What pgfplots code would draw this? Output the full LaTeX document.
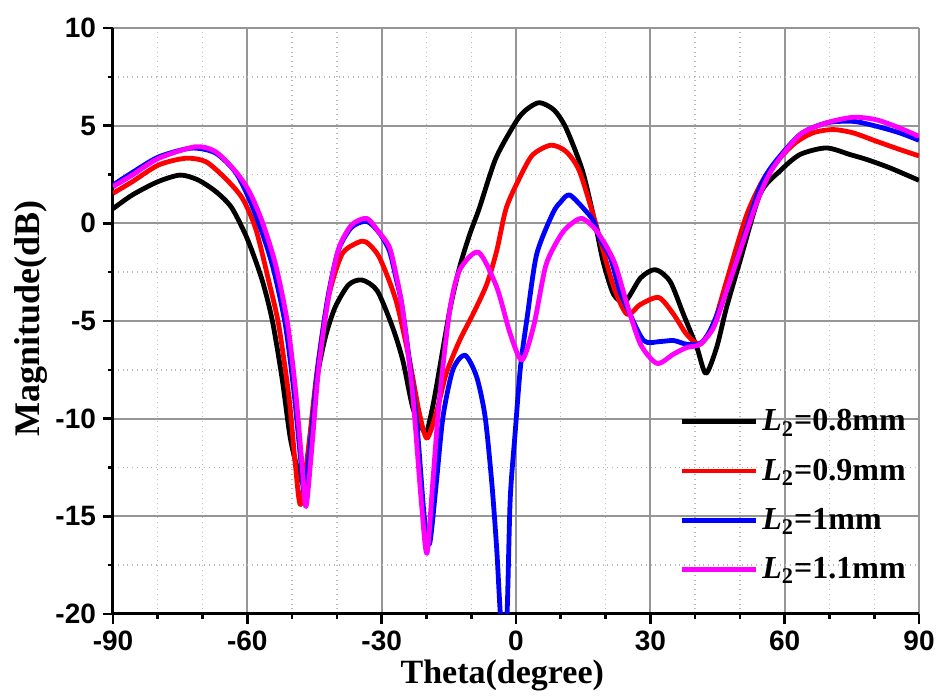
\documentclass[border=0pt]{standalone}
\usepackage{pgfplots}
\pgfplotsset{compat=1.18}
\usepackage{fontspec}
\setmainfont{Liberation Serif}
\setsansfont{Liberation Sans}
\definecolor{mag}{RGB}{255,0,255}
\definecolor{gridmaj}{RGB}{150,150,150}
\definecolor{gridmin}{RGB}{185,185,185}
\begin{document}
\begin{tikzpicture}
\begin{axis}[
  scale only axis, width=403pt, height=293pt,
  xmin=-90, xmax=90, ymin=-20, ymax=10,
  xtick={-90,-60,...,90}, ytick={-20,-15,...,10},
  minor x tick num=2, minor y tick num=1,
  axis x line*=bottom, axis y line*=left,
  axis line style={line width=1.5pt, black},
  tick align=outside,
  major tick length=5pt, minor tick length=2.5pt,
  every tick/.style={black, line width=1.3pt},
  grid=both,
  major grid style={gridmaj, line width=0.9pt},
  minor grid style={gridmin, dotted, line width=0.7pt},
  /pgf/number format/assume math mode=true,
  tick label style={font=\fontsize{14}{14}\selectfont\sffamily\bfseries},
  xlabel={Theta(degree)}, ylabel={Magnitude(dB)},
  xlabel style={font=\fontsize{17}{17}\selectfont\bfseries, at={(axis description cs:0.483,-0.078)}, anchor=north, inner sep=0pt},
  ylabel style={font=\fontsize{18}{18}\selectfont\bfseries, at={(axis description cs:-0.102,0.505)}, anchor=center, inner sep=0pt},
  legend style={draw=none, fill=none, at={(axis description cs:0.695,0.363)}, anchor=north west,
    font=\fontsize{16}{16}\selectfont\bfseries, row sep=8.5pt},
  legend cell align=left,
  legend image code/.code={\draw[#1] (0pt,0pt) -- (37pt,0pt);},
  every axis plot/.append style={line width=2.4pt, smooth, tension=0.45, line join=round},
]
% L2 = 0.8 mm
\addplot[black] coordinates {
(-90,0.75) (-85.7,1.45) (-80,2.13) (-75,2.47) (-71,2.22) (-67,1.62) (-63.5,0.8) (-60,-0.8)
(-56.7,-2.9) (-54.4,-5.0) (-52.2,-8.0) (-50.4,-11.0) (-48.5,-12.8) (-47.2,-13.3) (-46,-11.0)
(-44.5,-8.0) (-42.6,-5.85) (-40.4,-4.3) (-37.4,-3.15) (-34.4,-2.9) (-31,-3.45)
(-27.6,-5.3) (-25.3,-7.0) (-23.1,-9.4) (-21.2,-10.4) (-20,-10.7) (-18.8,-9.6) (-17.8,-8.4)
(-14.8,-4.46) (-12.6,-2.25) (-10.3,-0.54) (-8.2,0.77) (-4.5,3.33) (0,5.2) (2.2,5.8) (5.2,6.18)
(8.5,5.8) (11.2,4.86) (14.9,2.65) (17.9,-0.26) (19.5,-2.0) (21.8,-3.64) (24.4,-4.0) (27.8,-2.8)
(31.1,-2.37) (34.4,-2.97) (37.4,-4.66) (40.4,-6.36) (42.4,-7.68) (44.8,-6.36) (47,-4.32)
(50,-1.95) (54.5,1.5) (58.9,2.67) (63.4,3.52) (69.3,3.86) (74.6,3.52) (78.3,3.27) (83.5,2.84) (90,2.2)
};
\addlegendentry{\textit{L}\textsubscript{2}=0.8mm}
% L2 = 0.9 mm
\addplot[red] coordinates {
(-90,1.54) (-85.7,2.13) (-79.8,2.99) (-73.8,3.33) (-69.3,3.16) (-64.9,2.3) (-61.1,1.28) (-58.1,-0.3)
(-55.2,-2.97) (-53,-5.2) (-50.7,-8.9) (-49.3,-12.3) (-48.1,-14.4) (-46.3,-11.4) (-44.4,-7.5)
(-41.9,-3.8) (-38.9,-1.6) (-35.5,-1.0) (-33.5,-0.95) (-30.5,-1.75) (-26.8,-3.95)
(-23.8,-7.0) (-21.6,-9.7) (-19.9,-11.0) (-17.8,-9.7) (-15.6,-7.7) (-12.6,-6.0) (-9.5,-4.6)
(-6.5,-3.1) (-4.3,-1.4) (-2.2,0.77) (0.75,2.3) (3.7,3.5) (7.8,4.0) (11.2,3.67) (14.2,2.65)
(17.9,-0.09) (18.9,-0.93) (21.9,-3.3) (24.8,-4.66) (27.8,-4.15) (31.9,-3.8) (35.2,-4.66)
(38.1,-5.68) (41.1,-6.19) (44.1,-5.17) (47,-2.97) (51.5,0.42) (55.9,2.5) (61.9,4.03) (66.3,4.63)
(70.8,4.8) (75.3,4.63) (80.5,4.2) (85.7,3.78) (90,3.45)
};
\addlegendentry{\textit{L}\textsubscript{2}=0.9mm}
% L2 = 1 mm
\addplot[blue] coordinates {
(-90,1.96) (-85.7,2.6) (-79.8,3.4) (-72.5,3.85) (-67.1,3.6) (-62.6,2.6) (-59.3,1.1) (-56.2,-0.8)
(-54,-2.5) (-51.5,-5.2) (-49.6,-8.6) (-48,-12.3) (-47.3,-13.8) (-46,-11.5) (-44.3,-7.5)
(-42.1,-3.9) (-39.7,-1.4) (-36.7,-0.2) (-33.3,0.1) (-30.5,-0.5) (-28.3,-1.4) (-26.8,-2.8)
(-25.3,-4.46) (-22.3,-9.9) (-20.5,-15.0) (-19.3,-16.4) (-17.8,-13.3) (-16.3,-9.9) (-14.1,-7.5)
(-11.4,-6.75) (-8.8,-7.85) (-6.9,-9.9) (-5.4,-13.3) (-4.3,-16.7) (-3.5,-20) (-2.8,-21.5)
(-2.0,-20) (-1.3,-14.15) (-0.2,-10.75) (1.0,-7.35) (2.5,-4.8) (4.6,-1.6) (8.2,0.51) (10,1.1)
(12,1.45) (15.7,0.6) (17.4,0.08) (18.7,-0.77) (21.1,-1.78) (23.1,-3.4) (24.8,-4.32) (28.5,-6.0)
(32.2,-6.05) (35.2,-6.0) (38.1,-6.19) (41.1,-6.15) (43.3,-5.5) (47,-3.47) (51.5,-0.25) (54.4,1.8)
(57.4,3.0) (63.4,4.54) (69.3,5.14) (75.3,5.22) (80.5,4.97) (85.7,4.63) (90,4.25)
};
\addlegendentry{\textit{L}\textsubscript{2}=1mm}
% L2 = 1.1 mm
\addplot[mag] coordinates {
(-90,1.88) (-85.7,2.47) (-79.8,3.33) (-71.6,3.92) (-67.1,3.67) (-62.6,2.65) (-59.5,1.6)
(-56.7,0.1) (-53.7,-2.1) (-51.1,-5.0) (-49.3,-8.4) (-47.8,-12.3) (-46.9,-14.5) (-45.6,-11.5)
(-44.1,-7.5) (-41.9,-3.8) (-39.6,-1.3) (-36.7,-0.08) (-33.3,0.25) (-30.7,-0.43)
(-28.3,-1.2) (-26.8,-2.6) (-25.3,-4.46) (-23.1,-8.7) (-21.2,-14.1) (-19.9,-16.9) (-18.6,-13.3) (-17.1,-9.0)
(-14.8,-4.46) (-12.6,-2.4) (-8.4,-1.48) (-4.3,-3.27) (-1.3,-5.65) (1.35,-7.0) (4.0,-5.2)
(6.7,-2.13) (10,-0.6) (12.2,-0.05) (14.8,0.25) (18.1,-0.42) (21.9,-1.95) (24.8,-4.15) (27.8,-6.19)
(31.5,-7.17) (35.2,-6.69) (38.1,-6.36) (41.1,-6.19) (44.1,-5.34) (47,-3.47) (51.5,-0.42) (54.4,1.44)
(57.4,2.84) (63.4,4.54) (69.3,5.14) (75.3,5.43) (80.5,5.3) (85.7,4.88) (90,4.45)
};
\addlegendentry{\textit{L}\textsubscript{2}=1.1mm}
\end{axis}
\pgfresetboundingbox
\path (-56.5pt,-41pt) rectangle (413pt,307pt);
\end{tikzpicture}
\end{document}
